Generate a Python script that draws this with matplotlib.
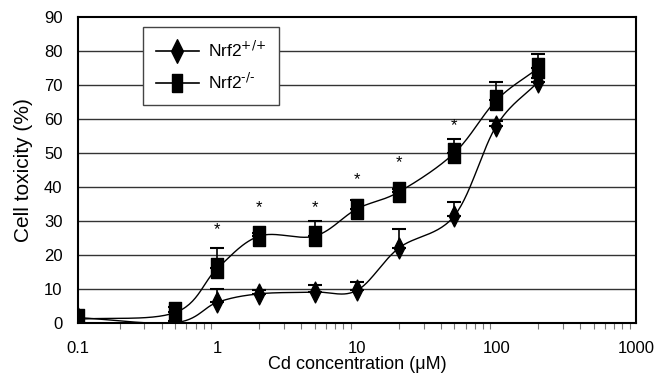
import numpy as np
import matplotlib
matplotlib.use("Agg")
import matplotlib.pyplot as plt
from matplotlib.ticker import FixedLocator, NullFormatter

plt.rcParams['font.family'] = ['Liberation Sans', 'DejaVu Sans']

conc = [0.1, 0.5, 1, 2, 5, 10, 20, 50, 100, 200]

wt_mean = [1.5, 0.0, 6.0, 8.5, 9.0, 9.5, 22.0, 31.5, 58.0, 71.0]
wt_err = [1.0, 0.5, 4.0, 1.0, 2.0, 2.5, 5.5, 4.0, 1.5, 1.0]

ko_mean = [1.0, 3.0, 16.0, 25.5, 25.5, 33.5, 38.5, 50.0, 65.5, 75.0]
ko_err = [1.5, 1.5, 6.0, 1.0, 4.5, 2.5, 1.0, 4.0, 5.5, 4.0]

star_conc = [1, 2, 5, 10, 20, 50]
star_y = [27.5, 34.0, 34.0, 42.0, 47.0, 58.0]

diamond = [(-0.5, 0), (0, 1), (0.5, 0), (0, -1), (-0.5, 0)]
rect = [(-0.6, -1), (0.6, -1), (0.6, 1), (-0.6, 1), (-0.6, -1)]


def smooth(x, y, n=30):
    # Catmull-Rom style curve through the points (log x)
    lx = np.log10(x)
    y = np.asarray(y, float)
    px = np.concatenate([[2 * lx[0] - lx[1]], lx, [2 * lx[-1] - lx[-2]]])
    py = np.concatenate([[2 * y[0] - y[1]], y, [2 * y[-1] - y[-2]]])
    xs, ys = [], []
    t = np.linspace(0, 1, n)
    for i in range(1, len(px) - 2):
        p0x, p1x, p2x, p3x = px[i - 1:i + 3]
        p0y, p1y, p2y, p3y = py[i - 1:i + 3]
        c1x = p1x + (p2x - p0x) / 6
        c1y = p1y + (p2y - p0y) / 6
        c2x = p2x - (p3x - p1x) / 6
        c2y = p2y - (p3y - p1y) / 6
        bx = (1 - t) ** 3 * p1x + 3 * (1 - t) ** 2 * t * c1x + 3 * (1 - t) * t ** 2 * c2x + t ** 3 * p2x
        by = (1 - t) ** 3 * p1y + 3 * (1 - t) ** 2 * t * c1y + 3 * (1 - t) * t ** 2 * c2y + t ** 3 * p2y
        xs.extend(bx)
        ys.extend(by)
    return 10 ** np.array(xs), np.array(ys)


fig = plt.figure(figsize=(6.54, 3.75), dpi=100)
ax = fig.add_axes([0.119, 0.1395, 0.8535, 0.8152])

ax.set_xscale('log')
ax.set_xlim(0.1, 1000)
ax.set_ylim(0, 90)

for yv in range(10, 90, 10):
    ax.axhline(yv, color='#333333', lw=1.0, zorder=1)

for mean, err, mk in [(wt_mean, wt_err, diamond), (ko_mean, ko_err, rect)]:
    sx, sy = smooth(conc, mean)
    ax.plot(sx, sy, color='black', lw=1.0, zorder=3)
    ax.errorbar(conc, mean, yerr=[[0] * len(err), err], fmt='none',
                ecolor='black', elinewidth=1.2, capsize=5, capthick=1.5, zorder=3)
    ax.plot(conc, mean, linestyle='none', marker=mk, markersize=15,
            color='black', zorder=4)

for xv, yv in zip(star_conc, star_y):
    ax.text(xv, yv, '*', ha='center', va='center', fontsize=12)

h1, = ax.plot([], [], color='black', lw=1.2, marker=diamond, markersize=17)
h2, = ax.plot([], [], color='black', lw=1.2, marker=rect, markersize=13)
leg = ax.legend([h1, h2], [r'Nrf2$^{\text{+/+}}$', r'Nrf2$^{\text{-/-}}$'],
                loc='upper left', bbox_to_anchor=(0.116, 0.967), borderaxespad=0,
                fancybox=False, framealpha=1, edgecolor='#444444',
                fontsize=12.5, handlelength=2.5, handletextpad=0.5,
                borderpad=0.75, labelspacing=0.65)
leg.get_frame().set_linewidth(1.0)
leg.set_zorder(5)

for s in ax.spines.values():
    s.set_linewidth(1.5)

ax.set_yticks(range(0, 91, 10))
ax.tick_params(axis='y', length=0, labelsize=12, pad=11)
ax.xaxis.set_major_locator(FixedLocator([0.1, 1, 10, 100, 1000]))
ax.set_xticklabels(['0.1', '1', '10', '100', '1000'])
minors = [m * 10.0 ** e for e in range(-1, 3) for m in range(2, 10)]
ax.xaxis.set_minor_locator(FixedLocator(minors))
ax.xaxis.set_minor_formatter(NullFormatter())
ax.tick_params(axis='x', which='major', length=0, labelsize=12, pad=13)
ax.tick_params(axis='x', which='minor', length=4, width=0.8, color='#777777')

ax.set_xlabel('Cd concentration (\u03bcM)', fontsize=13, labelpad=0)
ax.set_ylabel('Cell toxicity (%)', fontsize=15, labelpad=8)

fig.savefig('out.png', dpi=100)
